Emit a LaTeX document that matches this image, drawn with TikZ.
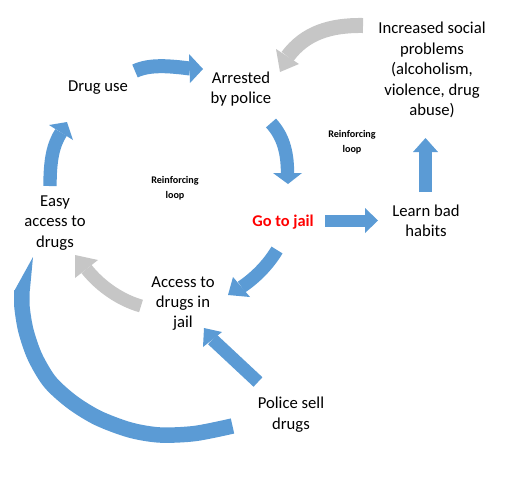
\documentclass[tikz,border=0pt]{standalone}
\usepackage{fontspec}
\setmainfont{Carlito}
\definecolor{arrblue}{RGB}{91,155,213}
\definecolor{arrgray}{RGB}{198,198,198}
\definecolor{txtred}{RGB}{255,0,0}
\begin{document}
\begin{tikzpicture}[x=0.75pt,y=-0.75pt,
  lbl/.style={align=center,inner sep=0pt,font=\fontsize{12.5}{15.3}\selectfont},
  loopl/.style={align=center,inner sep=0pt,font=\fontsize{7.6}{11.2}\selectfont\bfseries},
  blueshaft/.style={draw=arrblue,line width=#1,line cap=butt},
  grayshaft/.style={draw=arrgray,line width=#1,line cap=butt},
  bluehead/.style={fill=arrblue},
  grayhead/.style={fill=arrgray},
]
\path[use as bounding box] (0,0) rectangle (510,476);

% texts
\node[lbl] (druguse) at (98,88) {Drug use};
\node[lbl] (arrested) at (241,89) {Arrested\\by police};
\node[lbl] (social) at (432,70) {Increased social\\problems\\(alcoholism,\\violence, drug\\abuse)};
\node[loopl] (loopR) at (352,142) {Reinforcing\\loop};
\node[loopl] (loopL) at (175,188) {Reinforcing\\loop};
\node[lbl,font=\fontsize{12.3}{15}\selectfont\bfseries,text=txtred] (jail) at (283,222) {Go to jail};
\node[lbl] (learn) at (426,221) {Learn bad\\habits};
\node[lbl] (easy) at (55,223) {Easy\\access to\\drugs};
\node[lbl] (access) at (183,303.5) {Access to\\drugs in\\jail};
\node[lbl] (police) at (291,414.5) {Police sell\\drugs};

% arrow tails (s) and head bases (b)
\coordinate (a1s) at (135,71);    \coordinate (a1b) at (190,68.5);
\coordinate (a2s) at (50,186);    \coordinate (a2b) at (61,132.5);
\coordinate (a3s) at (271,123);   \coordinate (a3b) at (287.5,173);
\coordinate (a4s) at (363,25.5);  \coordinate (a4b) at (287.5,56.5);
\coordinate (a5s) at (425.5,192); \coordinate (a5b) at (425.5,152);
\coordinate (a6s) at (325,220.5); \coordinate (a6b) at (365,220.5);
\coordinate (a7s) at (277,250);   \coordinate (a7b) at (241.5,287);
\coordinate (a8s) at (141,306);   \coordinate (a8b) at (86.5,269);
\coordinate (a9s) at (258,382);   \coordinate (a9b) at (212.5,339.5);
\coordinate (a10s) at (232.5,426); \coordinate (a10b) at (22,290.5);

% Drug use -> Arrested
\draw[blueshaft=10.5pt] (a1s) .. controls (150,64) and (170,66) .. (a1b);
\fill[bluehead] (189,54) -- (203,69) -- (190,83) -- cycle;
% Easy access -> Drug use
\draw[blueshaft=10pt] (a2s) .. controls (50,160) and (53,145) .. (a2b);
\fill[bluehead] (49,125) -- (67,122) -- (73,140) -- cycle;
% Arrested -> Go to jail
\draw[blueshaft=10pt] (a3s) .. controls (282,135) and (287.5,150) .. (a3b);
\fill[bluehead] (273,173) -- (302,173) -- (288,184) -- cycle;
% Increased social problems -> Arrested (gray)
\draw[grayshaft=11.25pt] (a4s) .. controls (330,25) and (305,33) .. (a4b);
\fill[grayhead] (276,49) -- (299,64) -- (280,72) -- cycle;
% Learn bad habits -> Increased social problems
\draw[blueshaft=9.75pt] (a5s) -- (a5b);
\fill[bluehead] (413,152) -- (438,152) -- (425.5,138) -- cycle;
% Go to jail -> Learn bad habits
\draw[blueshaft=9pt] (a6s) -- (a6b);
\fill[bluehead] (365,208) -- (378,220.5) -- (365,233) -- cycle;
% Go to jail -> Access to drugs in jail
\draw[blueshaft=9.75pt] (a7s) .. controls (268,265) and (255,278) .. (a7b);
\fill[bluehead] (233,277) -- (250,297) -- (228,295) -- cycle;
% Access to drugs in jail -> Easy access (gray)
\draw[grayshaft=9.75pt] (a8s) .. controls (120,300) and (100,286) .. (a8b);
\fill[grayhead] (75,278) -- (98,260) -- (75,255) -- cycle;
% Police sell drugs -> Access to drugs in jail
\draw[blueshaft=9.75pt] (a9s) -- (a9b);
\fill[bluehead] (203,347) -- (222,332) -- (204,328) -- cycle;

% Police sell drugs -> Easy access (big arc)
\draw[blueshaft=11.6pt] plot[smooth,tension=0.5] coordinates
  {(a10s)(195,433.5)(160,435)(130,430)(98,418)(72,402)(50,382)(35,357)(26,331)(22,307)(a10b)};
\fill[bluehead] (14.2,291) -- (29.8,291) -- (33,257) -- cycle;
\end{tikzpicture}
\end{document}
